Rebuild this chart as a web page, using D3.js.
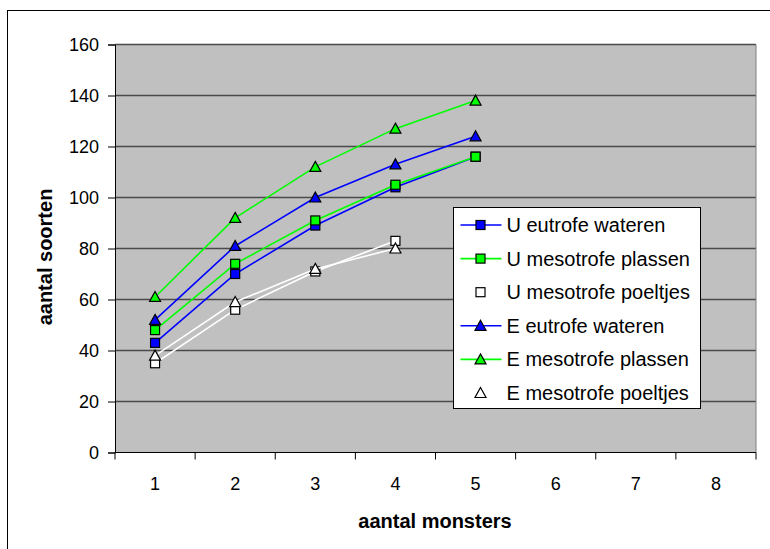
<!DOCTYPE html>
<html>
<head>
<meta charset="utf-8">
<script src="https://cdn.jsdelivr.net/npm/d3@7"></script>
<style>
  body { margin: 0; background: #fff; }
  svg { display: block; font-family: Arial, "Liberation Sans", sans-serif; }
</style>
</head>
<body>
<svg id="chart" width="770" height="549"></svg>
<script>
// categories on x axis (aantal monsters)
var categories = ['1', '2', '3', '4', '5', '6', '7', '8'];
var yTicks = [0, 20, 40, 60, 80, 100, 120, 140, 160];

// series values
var uEutrofeWateren = [43, 70, 89, 104, 116];
var uMesotrofePlassen = [48, 74, 91, 105, 116];
var uMesotrofePoeltjes = [35, 56, 71, 83];
var eEutrofeWateren = [52, 81, 100, 113, 124];
var eMesotrofePlassen = [61, 92, 112, 127, 138];
var eMesotrofePoeltjes = [38, 59, 72, 80];

var seriesNames = ['U eutrofe wateren', 'U mesotrofe plassen', 'U mesotrofe poeltjes',
                   'E eutrofe wateren', 'E mesotrofe plassen', 'E mesotrofe poeltjes'];
var seriesValues = [uEutrofeWateren, uMesotrofePlassen, uMesotrofePoeltjes,
                    eEutrofeWateren, eMesotrofePlassen, eMesotrofePoeltjes];
var lineColors = ['#0000ff', '#00ff00', '#ffffff', '#0000ff', '#00ff00', '#ffffff'];
var markerFills = ['#0000ff', '#00ff00', '#ffffff', '#0000ff', '#00ff00', '#ffffff'];
var markerShapes = ['square', 'square', 'square', 'triangle', 'triangle', 'triangle'];

var svg = d3.select('#chart');

// outer chart border
svg.append('rect')
    .attr('x', 7.5).attr('y', 10.5)
    .attr('width', 800).attr('height', 600)
    .attr('fill', '#fff').attr('stroke', '#000').attr('stroke-width', 1);

var plot = {left: 115, right: 756, top: 44.5, bottom: 452.5};

var x = d3.scaleBand().domain(categories).range([plot.left, plot.right]).padding(0);
var y = d3.scaleLinear().domain([0, 160]).range([plot.bottom, plot.top]);

// plot area background
svg.append('rect')
    .attr('x', plot.left).attr('y', plot.top)
    .attr('width', plot.right - plot.left).attr('height', plot.bottom - plot.top)
    .attr('fill', '#c0c0c0');

// gridlines
svg.append('g').selectAll('line')
    .data(yTicks.filter(function(d) { return d > 0; }))
    .join('line')
    .attr('x1', plot.left).attr('x2', plot.right)
    .attr('y1', function(d) { return y(d); }).attr('y2', function(d) { return y(d); })
    .attr('stroke', '#4a4a4a').attr('stroke-width', 1.3);

// right edge of plot area
svg.append('line')
    .attr('x1', plot.right).attr('x2', plot.right)
    .attr('y1', plot.top).attr('y2', plot.bottom)
    .attr('stroke', '#808080').attr('stroke-width', 1);

// y axis
var yAxis = d3.axisLeft(y).tickValues(yTicks).tickSize(7).tickPadding(9);
var gy = svg.append('g').attr('transform', 'translate(' + plot.left + ',0)').call(yAxis);
gy.select('.domain').attr('stroke', '#000');
gy.selectAll('.tick line').attr('stroke', '#000');
gy.selectAll('.tick text').attr('font-size', 18).attr('fill', '#000')
    .attr('font-family', 'Arial, "Liberation Sans", sans-serif');

// x axis: ticks between categories
var gx = svg.append('g').attr('transform', 'translate(0,' + plot.bottom + ')');
gx.append('line')
    .attr('x1', plot.left).attr('x2', plot.right)
    .attr('stroke', '#000').attr('stroke-width', 1);
var bounds = categories.map(function(c) { return x(c); }).concat([plot.right]);
gx.selectAll('line.tk').data(bounds).join('line').attr('class', 'tk')
    .attr('x1', function(d) { return d; }).attr('x2', function(d) { return d; })
    .attr('y1', 0).attr('y2', 7)
    .attr('stroke', '#000').attr('stroke-width', 1);
gx.selectAll('text').data(categories).join('text')
    .attr('x', function(d) { return x(d) + x.bandwidth() / 2; })
    .attr('y', 37)
    .attr('text-anchor', 'middle')
    .attr('font-size', 18)
    .text(function(d) { return d; });

// axis titles
svg.append('text')
    .attr('x', 435).attr('y', 528)
    .attr('text-anchor', 'middle')
    .attr('font-size', 20).attr('font-weight', 'bold')
    .text('aantal monsters');

svg.append('text')
    .attr('transform', 'translate(52,257) rotate(-90)')
    .attr('text-anchor', 'middle')
    .attr('font-size', 20).attr('font-weight', 'bold')
    .text('aantal soorten');

// marker drawing helper
var drawMarker = function(sel, shape, fill) {
    if (shape == 'square') {
        sel.append('rect')
            .attr('x', -4.5).attr('y', -4.5).attr('width', 9).attr('height', 9)
            .attr('fill', fill).attr('stroke', '#000').attr('stroke-width', 1.2);
    } else {
        sel.append('path')
            .attr('d', 'M0,-5.5L5.5,4.5L-5.5,4.5Z')
            .attr('fill', fill).attr('stroke', '#000').attr('stroke-width', 1.2);
    }
};

var line = d3.line()
    .x(function(d, i) { return x(categories[i]) + x.bandwidth() / 2; })
    .y(function(d) { return y(d); });

seriesValues.forEach(function(vals, s) {
    var g = svg.append('g');
    g.append('path')
        .attr('d', line(vals))
        .attr('fill', 'none')
        .attr('stroke', lineColors[s])
        .attr('stroke-width', 1.6);
    vals.forEach(function(v, i) {
        var m = g.append('g')
            .attr('transform', 'translate(' + (x(categories[i]) + x.bandwidth() / 2) + ',' + y(v) + ')');
        drawMarker(m, markerShapes[s], markerFills[s]);
    });
});

// legend
var legend = svg.append('g').attr('transform', 'translate(453.5,207.5)');
legend.append('rect')
    .attr('width', 247).attr('height', 201)
    .attr('fill', '#fff').attr('stroke', '#000').attr('stroke-width', 1);

seriesNames.forEach(function(name, s) {
    var row = legend.append('g').attr('transform', 'translate(0,' + (17.5 + s * 33.6) + ')');
    row.append('line')
        .attr('x1', 7).attr('x2', 48)
        .attr('stroke', lineColors[s]).attr('stroke-width', 1.6);
    var m = row.append('g').attr('transform', 'translate(27,0)');
    drawMarker(m, markerShapes[s], markerFills[s]);
    row.append('text')
        .attr('x', 53).attr('y', 7)
        .attr('font-size', 20)
        .text(name);
});
</script>
</body>
</html>
